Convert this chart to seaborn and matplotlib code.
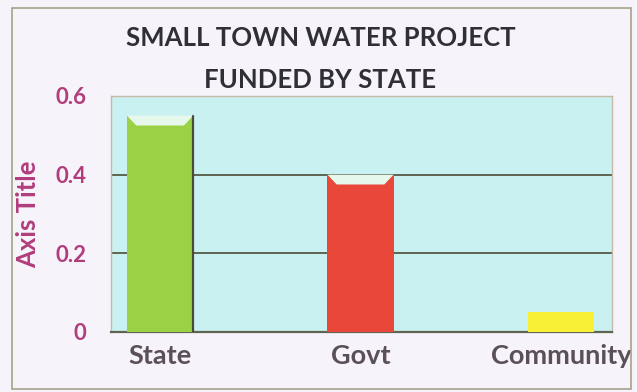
import matplotlib
matplotlib.use("Agg")
import matplotlib.pyplot as plt
from matplotlib.patches import Polygon, Rectangle
import seaborn as sns
import pandas as pd

categories = ["State", "Govt", "Community"]
values = [0.55, 0.40, 0.05]
bar_colors = ["#9bd245", "#e8473a", "#f8f034"]
yticks = [0, 0.2, 0.4, 0.6]
ytick_labels = ["0", "0.2", "0.4", "0.6"]

sns.set_theme(style="white")
plt.rcParams["font.family"] = ["Lato", "DejaVu Sans"]

df = pd.DataFrame({"source": categories, "share": values})

fig = plt.figure(figsize=(6.37, 3.92), dpi=100)
fig.patch.set_facecolor("#f6f4fa")
ax = fig.add_axes([111 / 637, 1 - 332 / 392, 501 / 637, 236 / 392])
ax.set_facecolor("#c9f1f1")

sns.barplot(data=df, x="source", y="share", hue="source", palette=bar_colors,
            legend=False, width=0.33, saturation=1, linewidth=0, ax=ax, zorder=3)

ax.set_xlim(-0.245, 2.255)
ax.set_ylim(0, 0.6)
ax.set_yticks(yticks)
ax.set_yticklabels(ytick_labels)
ax.yaxis.grid(True, color="#5e6450", linewidth=1.4, zorder=1)
ax.set_axisbelow(True)

# bevelled caps on the taller bars
for i, patch in enumerate(ax.patches):
    x0, w, h = patch.get_x(), patch.get_width(), patch.get_height()
    if h < 0.1:
        continue
    d = 0.025
    inset = w * 0.14
    cap = Polygon([(x0, h), (x0 + w, h), (x0 + w - inset, h - d), (x0 + inset, h - d)],
                  closed=True, facecolor="#e6f8ec", edgecolor="none", zorder=4)
    ax.add_patch(cap)
    if i == 0:
        ax.plot([x0 + w, x0 + w], [0, h], color="#4a4a3a", linewidth=1.6, zorder=5)

for side in ["left", "right", "top"]:
    ax.spines[side].set_color("#c9b9a4")
    ax.spines[side].set_linewidth(1.0)
ax.spines["bottom"].set_color("#5e6450")
ax.spines["bottom"].set_linewidth(1.6)

ax.tick_params(axis="y", length=0, pad=18, labelsize=16, labelcolor="#b23d7c")
ax.tick_params(axis="x", length=0, pad=9, labelsize=19.5, labelcolor="#5b5059")
for lbl in ax.get_yticklabels() + ax.get_xticklabels():
    lbl.set_fontweight("bold")

ax.set_xlabel("")
ax.set_ylabel("Axis Title", fontsize=18.5, fontweight="bold", color="#b23d7c")
ax.yaxis.set_label_coords(-(111 - 40) / 501, 0.5)

fig.text(0.503, 1 - 38 / 392, "SMALL TOWN WATER PROJECT", ha="center", va="center",
         fontsize=18.5, fontweight="bold", color="#2f2f35")
fig.text(0.503, 1 - 80 / 392, "FUNDED BY STATE", ha="center", va="center",
         fontsize=18.5, fontweight="bold", color="#2f2f35")

# chart frame
fig.add_artist(Rectangle((12 / 637, 1 - 389 / 392), 619 / 637, 381 / 392,
                         transform=fig.transFigure, fill=False,
                         edgecolor="#a7a08a", linewidth=1.2))

fig.savefig("out.png", dpi=100, facecolor=fig.get_facecolor())
